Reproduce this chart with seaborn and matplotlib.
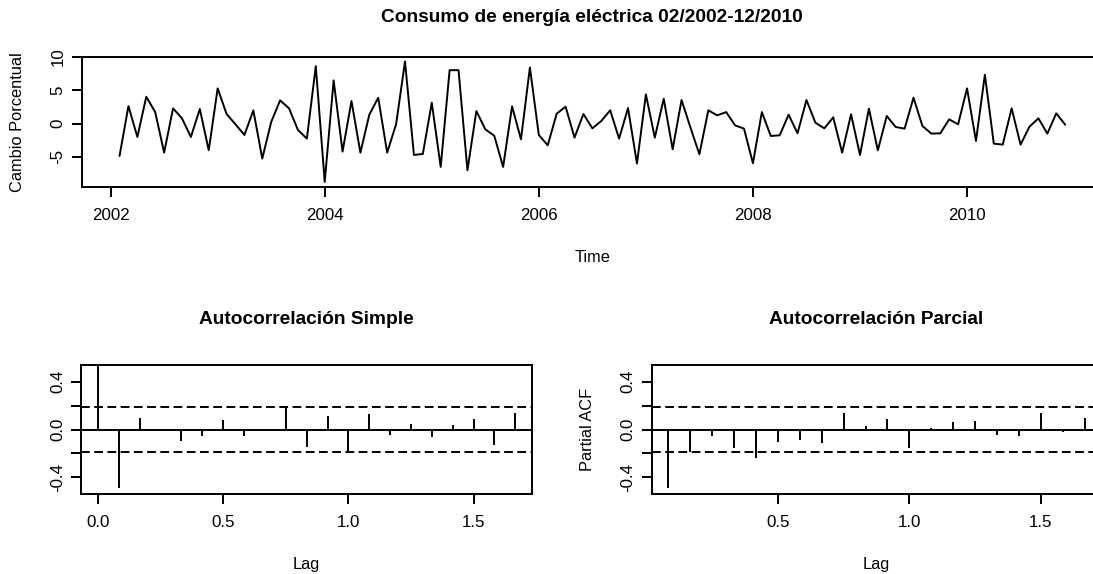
import numpy as np
import pandas as pd
import matplotlib
matplotlib.use("Agg")
import matplotlib.pyplot as plt
import seaborn as sns

# Monthly percentage change in electricity consumption, Feb 2002 - Dec 2010
start_year = 2002
start_month = 2
cambio = [
    # 2002 (Feb-Dec)
    -4.86, 2.64, -2.0, 4.05, 1.74, -4.35, 2.3, 0.8, -2.0, 2.2, -4.0,
    # 2003
    5.3, 1.45, -0.1, -1.7, 2.0, -5.25, 0.25, 3.5, 2.3, -0.95, -2.25, 8.64,
    # 2004
    -8.75, 6.5, -4.2, 3.4, -4.35, 1.35, 3.9, -4.35, -0.1, 9.34, -4.7, -4.55,
    # 2005
    3.15, -6.5, 8.04, 8.04, -7.0, 1.9, -0.85, -1.8, -6.5, 2.6, -2.35, 8.44,
    # 2006
    -1.7, -3.25, 1.5, 2.55, -2.1, 1.45, -0.7, 0.4, 2.0, -2.25, 2.35, -6.0,
    # 2007
    4.4, -2.1, 3.75, -3.85, 3.55, -0.6, -4.6, 2.0, 1.25, 1.74, -0.25, -0.75,
    # 2008
    -5.95, 1.74, -1.85, -1.75, 1.35, -1.45, 3.55, 0.15, -0.7, 0.95, -4.35, 1.4,
    # 2009
    -4.7, 2.25, -4.0, 1.15, -0.5, -0.75, 3.9, -0.35, -1.5, -1.45, 0.65, -0.1,
    # 2010
    5.3, -2.6, 7.35, -3.0, -3.15, 2.3, -3.15, -0.45, 0.8, -1.5, 1.55, -0.15,
]

# Sample autocorrelations, lags 0..20 (monthly lags, in years)
acf_vals = [1.0, -0.488, 0.099, 0.005, -0.10, -0.055, 0.08, -0.052, 0.005, 0.18,
            -0.146, 0.11, -0.19, 0.13, -0.05, 0.05, -0.063, 0.039, 0.088, -0.13, 0.14]
# Sample partial autocorrelations, lags 1..20
pacf_vals = [-0.488, -0.187, -0.056, -0.151, -0.235, -0.103, -0.089, -0.117, 0.134, 0.028,
             0.092, -0.159, 0.011, 0.059, 0.073, -0.05, -0.056, 0.134, -0.017, 0.098]

year_ticks = [2002, 2004, 2006, 2008, 2010]
serie_yticks = [-5, 0, 5, 10]
lag_ticks = [0.0, 0.5, 1.0, 1.5]
corr_ticks = [-0.4, -0.2, 0.0, 0.2, 0.4]
corr_labels = ["-0.4", "", "0.0", "", "0.4"]

n = len(cambio)
time = start_year + (start_month - 1) / 12 + np.arange(n) / 12
df = pd.DataFrame({"Time": time, "Cambio": cambio})
lags_acf = np.arange(len(acf_vals)) / 12
lags_pacf = np.arange(1, len(pacf_vals) + 1) / 12
clim = 1.96 / np.sqrt(n)

sns.set_style("ticks")
plt.rcParams["font.family"] = ["Liberation Sans", "DejaVu Sans"]
plt.rcParams["axes.unicode_minus"] = False
for key in ("text.color", "axes.labelcolor", "xtick.color", "ytick.color", "axes.edgecolor"):
    plt.rcParams[key] = "black"

W, H = 1093, 574
fig = plt.figure(figsize=(W / 100, H / 100), dpi=100)
FS_TICK = 12.2
FS_LAB = 11.8
FS_TITLE = 13.8
LW = 1.4


def rect(left, top, right, bottom):
    return [left / W, (H - bottom) / H, (right - left) / W, (bottom - top) / H]


def r_limits(lo, hi):
    pad = 0.04 * (hi - lo)
    return lo - pad, hi + pad


def style_axes(ax, h_px, w_px, title, title_gap):
    for s in ax.spines.values():
        s.set_visible(True)
        s.set_linewidth(LW)
        s.set_color("black")
    ax.tick_params(axis="both", direction="out", length=7.2, width=LW,
                   colors="black", labelsize=FS_TICK)
    ax.tick_params(axis="x", pad=8)
    ax.tick_params(axis="y", pad=4.5)
    for lab in ax.get_yticklabels():
        lab.set_rotation(90)
        lab.set_va("center")
    ax.set_title(title, fontsize=FS_TITLE, fontweight="bold", y=1 + title_gap / h_px,
                 va="center", pad=0, color="black")
    ax.xaxis.label.set_fontsize(FS_LAB)
    ax.xaxis.label.set_va("center")
    ax.xaxis.set_label_coords(0.5, -71 / h_px)
    ax.yaxis.label.set_fontsize(FS_LAB)
    ax.yaxis.label.set_va("center")
    ax.yaxis.set_label_coords(-64 / w_px, 0.5)
    ax.grid(False)


# Time series panel
ax1 = fig.add_axes(rect(81.7, 56.7, 1103, 186.7))
sns.lineplot(data=df, x="Time", y="Cambio", ax=ax1, color="black", lw=LW, sort=False)
ax1.set_xlim(*r_limits(time.min(), time.max()))
ax1.set_ylim(*r_limits(min(cambio), max(cambio)))
ax1.set_xticks(year_ticks)
ax1.set_xticklabels([str(y) for y in year_ticks])
ax1.set_yticks(serie_yticks)
ax1.set_yticklabels([str(v) for v in serie_yticks])
ax1.set_xlabel("Time")
ax1.set_ylabel("Cambio Porcentual")
style_axes(ax1, 130, 1103 - 81.7, "Consumo de energía eléctrica 02/2002-12/2010", 39.0)

dash = (0, (4.5, 2.3))

# ACF panel
ax2 = fig.add_axes(rect(81.3, 365, 532, 494))
ax2.vlines(lags_acf, 0, acf_vals, color="black", lw=LW)
ax2.axhline(0, color="black", lw=LW)
ax2.axhline(clim, color="black", lw=LW, ls=dash)
ax2.axhline(-clim, color="black", lw=LW, ls=dash)
ax2.set_xlim(*r_limits(lags_acf.min(), lags_acf.max()))
ax2.set_ylim(*r_limits(-0.5, 0.5))
ax2.set_xticks(lag_ticks)
ax2.set_xticklabels([f"{v:.1f}" for v in lag_ticks])
ax2.set_yticks(corr_ticks)
ax2.set_yticklabels(corr_labels)
ax2.set_xlabel("Lag")
ax2.set_ylabel("")
style_axes(ax2, 129, 532 - 81.3, "Autocorrelación Simple", 45)

# PACF panel
ax3 = fig.add_axes(rect(651.5, 365, 1101.5, 494))
ax3.vlines(lags_pacf, 0, pacf_vals, color="black", lw=LW)
ax3.axhline(0, color="black", lw=LW)
ax3.axhline(clim, color="black", lw=LW, ls=dash)
ax3.axhline(-clim, color="black", lw=LW, ls=dash)
ax3.set_xlim(*r_limits(lags_pacf.min(), lags_pacf.max()))
ax3.set_ylim(*r_limits(-0.5, 0.5))
pacf_xticks = [0.5, 1.0, 1.5]
ax3.set_xticks(pacf_xticks)
ax3.set_xticklabels([f"{v:.1f}" for v in pacf_xticks])
ax3.set_yticks(corr_ticks)
ax3.set_yticklabels(corr_labels)
ax3.set_xlabel("Lag")
ax3.set_ylabel("Partial ACF")
style_axes(ax3, 129, 1101.5 - 651.5, "Autocorrelación Parcial", 45)

fig.savefig("out.png", dpi=100, facecolor="white")
